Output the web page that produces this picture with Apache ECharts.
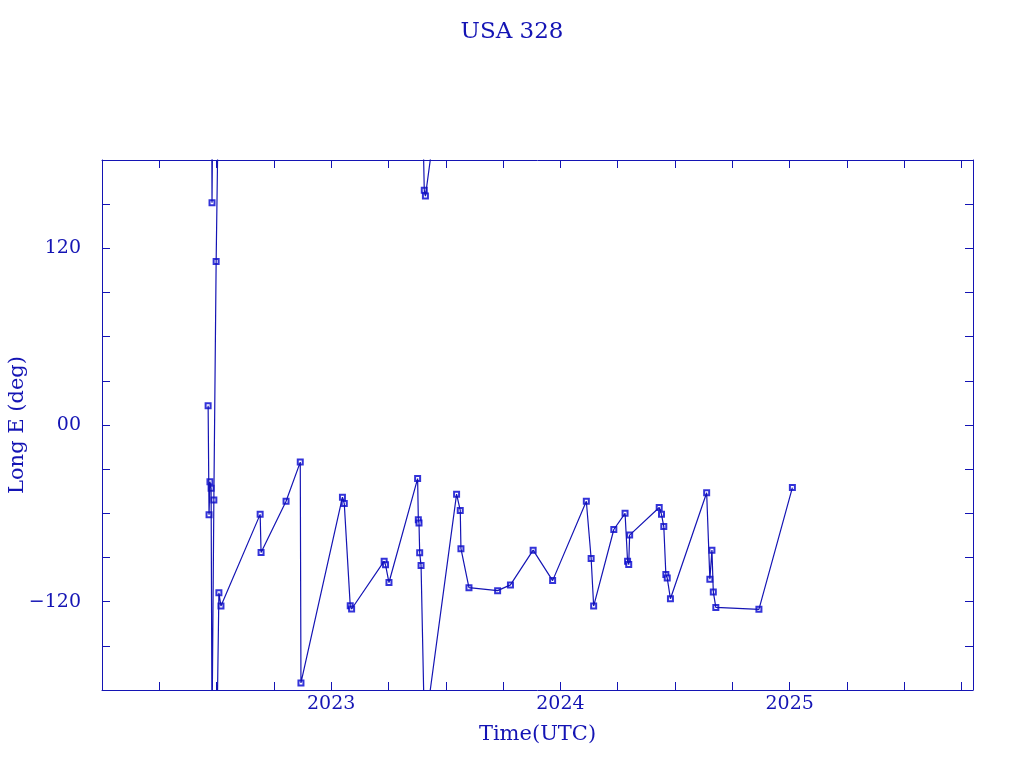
<!DOCTYPE html>
<html>
<head>
<meta charset="utf-8">
<script src="https://cdn.jsdelivr.net/npm/echarts@6/dist/echarts.min.js"></script>
<style>html,body{margin:0;padding:0;background:#fff}#c{width:1024px;height:768px}</style>
</head>
<body>
<div id="c"></div>
<script>
// Time (decimal year, UTC)
var times = [
  2022.463, 2022.467, 2022.471, 2022.476, 2022.480, 2022.488, 2022.498, 2022.510, 2022.519,
  2022.690, 2022.694, 2022.803, 2022.865, 2022.868,
  2023.049, 2023.057, 2023.083, 2023.089, 2023.231, 2023.237, 2023.252,
  2023.377, 2023.380, 2023.383, 2023.386, 2023.392, 2023.406, 2023.411,
  2023.547, 2023.563, 2023.566, 2023.601, 2023.726, 2023.782, 2023.881, 2023.966,
  2024.113, 2024.134, 2024.145, 2024.233, 2024.282, 2024.293, 2024.298, 2024.302,
  2024.431, 2024.441, 2024.451, 2024.460, 2024.466, 2024.480,
  2024.638, 2024.652, 2024.661, 2024.667, 2024.678, 2024.866, 2025.012
];
// Longitude East (deg)
var longitudes = [
  13, -61, -38.5, -43, 151, -51, 111, -114, -123,
  -60.7, -86.6, -51.8, -25.2, -175.2,
  -49, -53.4, -122.7, -125, -92.5, -95, -107,
  -36.4, -64.3, -66.6, -86.8, -95.5, 159.5, 155.5,
  -47, -58, -84, -110.5, -112.5, -108.6, -85, -105.7,
  -51.8, -90.7, -123, -71, -60, -92.5, -94.8, -74.8,
  -56, -60.7, -69, -101.6, -104, -118,
  -46, -104.8, -85, -113.4, -123.9, -125.2, -42.5
];
var yTickLabels = {'120': '120', '0': '00', '-120': '\u2212120'};
var xTickLabels = {'2023': '2023', '2024': '2024', '2025': '2025'};

var C = '#1414b4';
var FONT = 'DejaVu Serif';

// build line data, wrapping the shorter way around ±180
var lineData = [];
var pts = [];
for (var i = 0; i < times.length; i++) {
  pts.push([times[i], longitudes[i]]);
  if (i === 0) { lineData.push([times[i], longitudes[i]]); continue; }
  var d = longitudes[i] - longitudes[i - 1];
  if (Math.abs(d) > 180) {
    var s = d > 0 ? -360 : 360;
    lineData.push([times[i], longitudes[i] + s]);
    lineData.push([(times[i] + times[i - 1]) / 2, '-']);
    lineData.push([times[i - 1], longitudes[i - 1] - s]);
  }
  lineData.push([times[i], longitudes[i]]);
}

var chart = echarts.init(document.getElementById('c'), null, {renderer: 'canvas'});
var tickStyle = {inside: true, length: 8, lineStyle: {color: C, width: 1}};
var lineStyle = {show: true, onZero: false, lineStyle: {color: C, width: 1}};
chart.setOption({
  animation: false,
  backgroundColor: '#fff',
  title: {
    text: 'USA 328', left: 'center', top: 16,
    textStyle: {fontFamily: FONT, fontSize: 23, fontWeight: 'normal', color: C}
  },
  grid: {left: 102, top: 160, right: 51, bottom: 78, containLabel: false, outerBoundsMode: 'none'},
  xAxis: [{
    type: 'value', min: 2022, max: 2025.8, interval: 0.25,
    name: 'Time(UTC)', nameLocation: 'middle', nameGap: 34, nameMoveOverlap: false,
    nameTextStyle: {fontFamily: FONT, fontSize: 21, color: C},
    axisLine: lineStyle, axisTick: tickStyle, splitLine: {show: false},
    axisLabel: {
      color: C, fontFamily: FONT, fontSize: 19, margin: 5, showMinLabel: true, showMaxLabel: true,
      formatter: function (v) { var k = String(Math.round(v * 100) / 100); return xTickLabels[k] || ''; }
    }
  }, {
    type: 'value', min: 2022, max: 2025.8, interval: 0.25, position: 'top',
    axisLine: lineStyle, axisTick: tickStyle, splitLine: {show: false}, axisLabel: {show: false}
  }],
  yAxis: [{
    type: 'value', min: -180, max: 180, interval: 30,
    name: 'Long E (deg)', nameLocation: 'middle', nameGap: 74, nameMoveOverlap: false,
    nameTextStyle: {fontFamily: FONT, fontSize: 21, color: C},
    axisLine: lineStyle, axisTick: tickStyle, splitLine: {show: false},
    axisLabel: {
      color: C, fontFamily: FONT, fontSize: 19, margin: 21,
      formatter: function (v) { return yTickLabels[String(v)] || ''; }
    }
  }, {
    type: 'value', min: -180, max: 180, interval: 30, position: 'right',
    axisLine: lineStyle, axisTick: tickStyle, splitLine: {show: false}, axisLabel: {show: false}
  }],
  series: [{
    type: 'line', data: lineData, showSymbol: false, clip: true,
    connectNulls: false, lineStyle: {color: C, width: 1.2}, silent: true
  }, {
    type: 'scatter', data: pts, symbol: 'emptyRect', symbolSize: 5, clip: true,
    itemStyle: {color: '#0000d0', borderColor: '#0000d0', borderWidth: 2}, silent: true
  }]
});
</script>
</body>
</html>
